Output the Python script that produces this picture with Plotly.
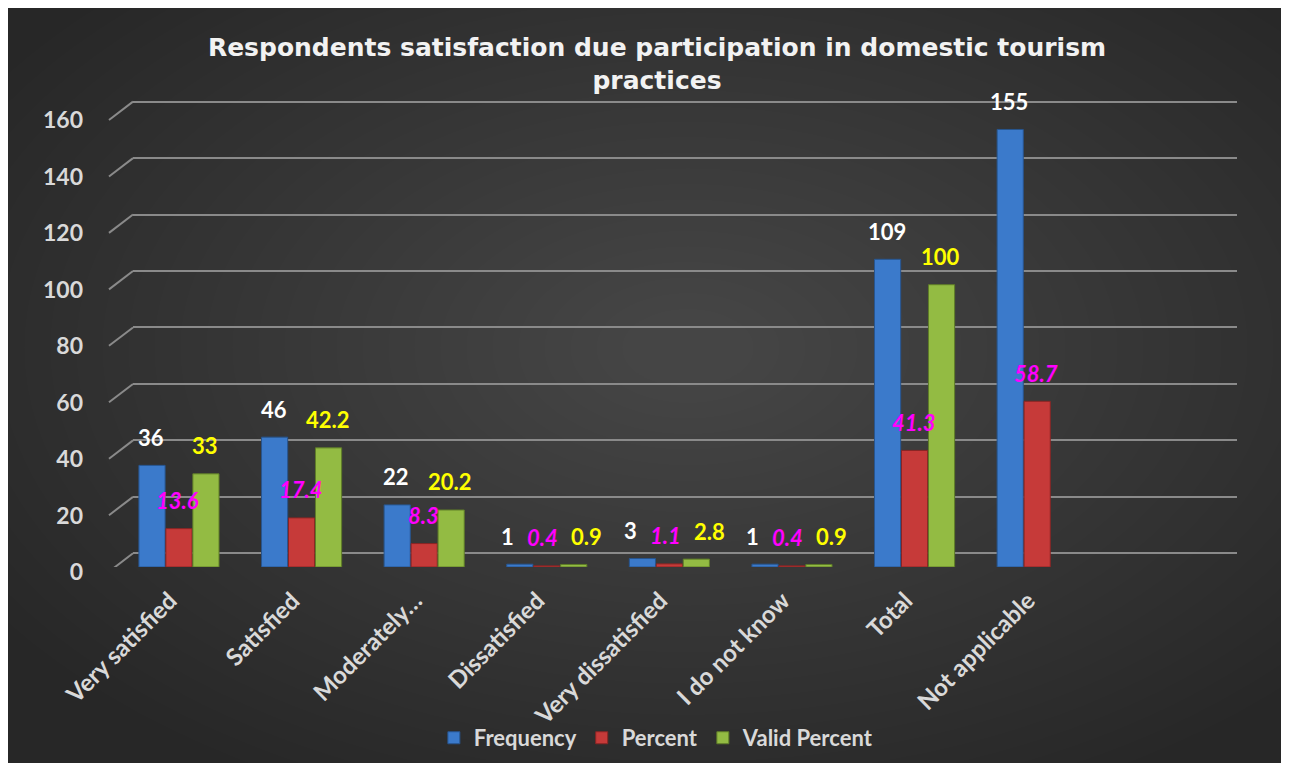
import plotly.graph_objects as go

# data
categories = ["Very satisfied", "Satisfied", "Moderately…", "Dissatisfied",
              "Very dissatisfied", "I do not know", "Total", "Not applicable"]
frequency = [36, 46, 22, 1, 3, 1, 109, 155]
percent = [13.6, 17.4, 8.3, 0.4, 1.1, 0.4, 41.3, 58.7]
valid_percent = [33, 42.2, 20.2, 0.9, 2.8, 0.9, 100, None]
y_ticks = [0, 20, 40, 60, 80, 100, 120, 140, 160]

W, H = 1289, 763
# plot area in figure pixels (the page adds an 8px body margin)
L, R, T, B = 125, 1229, 87, 559
PW, PH = R - L, B - T
PX_PER_UNIT = 2.823
Y_TOP = PH / PX_PER_UNIT
BACK_SHIFT = 4.85   # back wall gridlines sit a bit higher than the front scale
SLANT = 6.5         # front-to-back drop of the slanted grid ends


def px(x):
    return (x - L) / PW


def py(y):
    return (B - y) / PH


FONT = "Lato, 'Open Sans', sans-serif"
GREY_TXT = "#d9d9d9"
GRID = "#8a8a8a"
series = [
    ("Frequency", frequency, "#3b7acb", "#27558f", dict(color="#ffffff")),
    ("Percent", percent, "#c63a39", "#8a2524", dict(color="#ff00ff", style="italic")),
    ("Valid Percent", valid_percent, "#93bb43", "#5f7d28", dict(color="#ffff00")),
]
# label x offsets per slot; tiny bars get their labels spread so they don't collide
SHIFT_NORMAL = [-28, -1, 26]
SHIFT_SMALL = [-39, -4, 40]

fig = go.Figure()
for name, vals, col, edge, _ in series:
    fig.add_bar(x=categories, y=vals, name=name, marker=dict(color=col, line=dict(color=edge, width=1)))

# invisible trace so the back-wall grid axis is drawn
fig.add_scatter(x=[categories[0]], y=[0], yaxis="y2", mode="markers", marker=dict(opacity=0),
                showlegend=False, hoverinfo="skip")

# value labels
for k, c in enumerate(categories):
    group = [s[1][k] for s in series if s[1][k] is not None]
    shifts = SHIFT_SMALL if max(group) < 5 else SHIFT_NORMAL
    for (name, vals, _, _, font), dx in zip(series, shifts):
        v = vals[k]
        if v is None:
            continue
        fig.add_annotation(x=c, y=v, xref="x", yref="y", text=f"{v:g}", showarrow=False,
                           xshift=dx, yshift=28, yanchor="middle",
                           font=dict(family=FONT, size=22, weight="bold", **font))

shapes = []
# fake the radial glow of the background
for i in range(30):
    rx = 820 - i * 26
    ry = rx * 0.6
    cx, cy = 680, 340
    shapes.append(dict(type="circle", xref="paper", yref="paper", layer="below",
                       x0=px(cx - rx), x1=px(cx + rx), y0=py(cy + ry), y1=py(cy - ry),
                       fillcolor="rgba(255,255,255,0.0065)", line=dict(width=0)))
# slanted front ends of the gridlines
for v in y_ticks:
    shapes.append(dict(type="line", xref="paper", yref="y2", layer="below",
                       x0=px(L - 24), x1=0, y0=v - SLANT, y1=v,
                       line=dict(color=GRID, width=2)))

fig.update_layout(
    width=W, height=H, autosize=False,
    paper_bgcolor="#272727", plot_bgcolor="rgba(0,0,0,0)",
    margin=dict(l=L, r=W - R, t=T, b=H - B, pad=0, autoexpand=False),
    title=dict(text="Respondents satisfaction due participation in domestic tourism<br>practices",
               x=0.5035, xanchor="center", xref="container", y=0.937, yanchor="top",
               font=dict(family="DejaVu Sans", size=25, weight="bold", color="#f2f2f2")),
    barmode="group", bargap=0.34, bargroupgap=0.03,
    shapes=shapes,
    legend=dict(orientation="h", xref="container", yref="container", x=0.503, y=0.0433,
                xanchor="center", yanchor="middle", bgcolor="rgba(0,0,0,0)",
                font=dict(family=FONT, size=22, weight="bold", color=GREY_TXT)),
    xaxis=dict(range=[-0.375, 8.63], showgrid=False, zeroline=False, showline=False,
               automargin=False, tickangle=-45, ticks="", ticklabelstandoff=14,
               ticklabelshift=-9,
               tickfont=dict(family=FONT, size=24, weight="bold", color=GREY_TXT)),
    yaxis=dict(range=[0, Y_TOP], showgrid=False, zeroline=False, showline=False,
               automargin=False, tickvals=y_ticks, ticks="", ticklabelstandoff=49,
               ticklabelshift=5,
               tickfont=dict(family=FONT, size=23, weight="bold", color=GREY_TXT)),
    yaxis2=dict(range=[-BACK_SHIFT, Y_TOP - BACK_SHIFT], overlaying="y", showgrid=True,
                gridcolor=GRID, gridwidth=2, tickvals=y_ticks, showticklabels=False,
                zeroline=False, showline=False),
)

fig.write_html("out.html")
